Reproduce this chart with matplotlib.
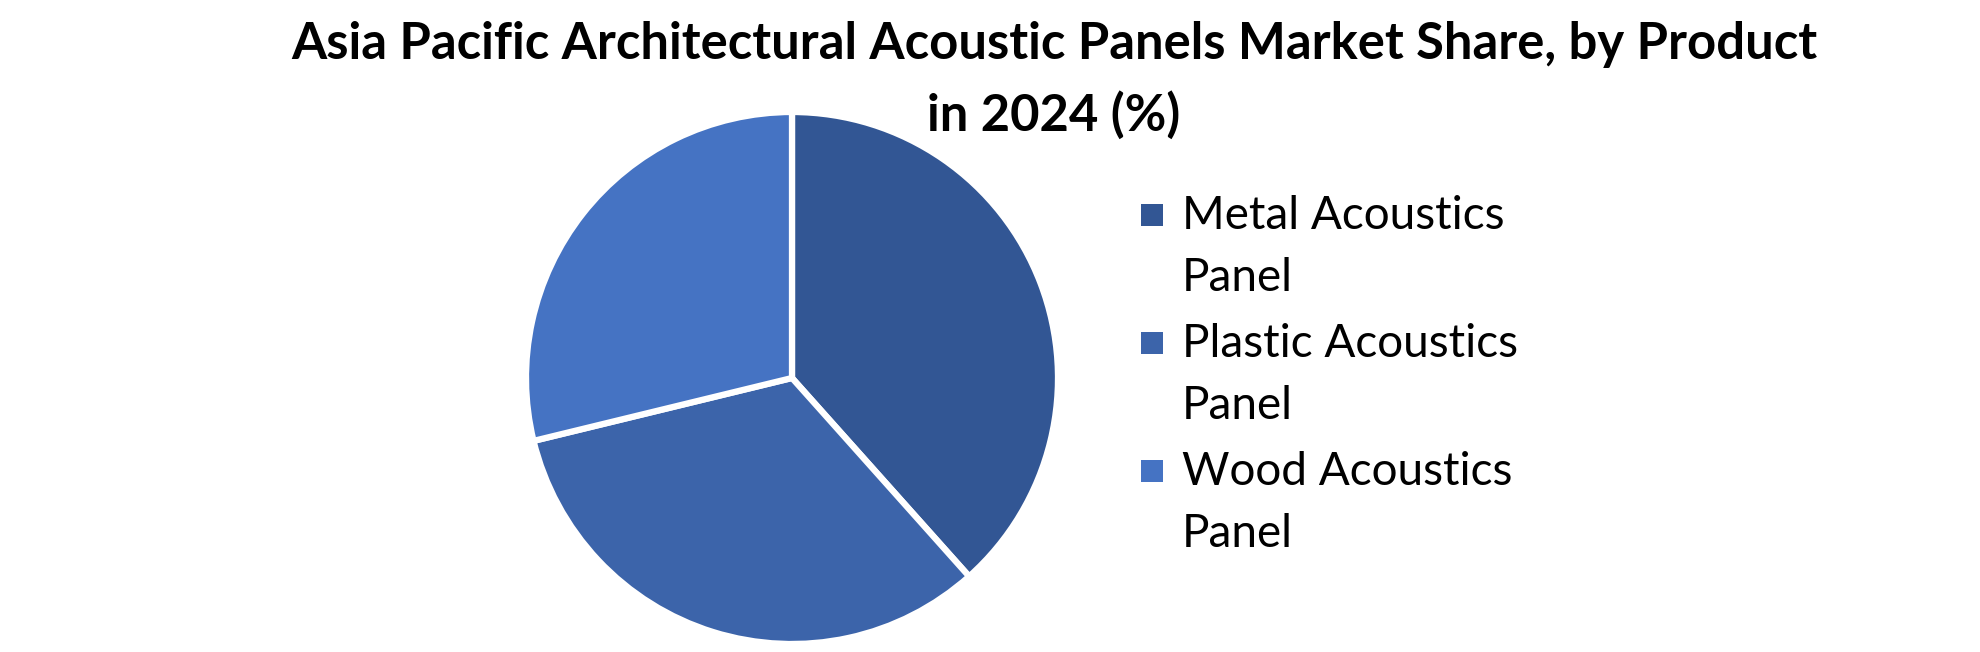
import matplotlib
matplotlib.use("Agg")
import matplotlib.pyplot as plt
from matplotlib.patches import Rectangle

# data
products = ["Metal Acoustics\nPanel", "Plastic Acoustics\nPanel", "Wood Acoustics\nPanel"]
shares = [38.4, 32.8, 28.8]
colors = ["#325694", "#3C64AA", "#4573C3"]
title = "Asia Pacific Architectural Acoustic Panels Market Share, by Product\nin 2024 (%)"

W, H = 1980, 652
fig = plt.figure(figsize=(W / 100, H / 100), dpi=100)

# pie
cx, cy, r = 792, 378, 266
ax = fig.add_axes([(cx - r) / W, (H - cy - r) / H, 2 * r / W, 2 * r / H])
ax.pie(shares, colors=colors, startangle=90, counterclock=False,
       wedgeprops=dict(edgecolor="white", linewidth=4.5))
ax.set_xlim(-1, 1)
ax.set_ylim(-1, 1)
ax.set_aspect("equal")
ax.axis("off")

fig.text(1054 / W, 1 - 21 / H, title, ha="center", va="top",
         fontsize=36.5, fontweight="bold", family="Lato", linespacing=1.57)

# legend drawn by hand so the marker sits on the first line
sq = 22
y0, step = 215, 128
for i, (lab, col) in enumerate(zip(products, colors)):
    y = y0 + i * step
    fig.patches.append(Rectangle(((1152 - sq / 2) / W, (H - y - sq / 2) / H), sq / W, sq / H,
                                 transform=fig.transFigure, facecolor=col, edgecolor="none"))
    fig.text(1182 / W, 1 - (y - 20) / H, lab, ha="left", va="top",
             fontsize=33, family="Lato", linespacing=1.6)

fig.savefig("out.png", dpi=100, facecolor="white")
